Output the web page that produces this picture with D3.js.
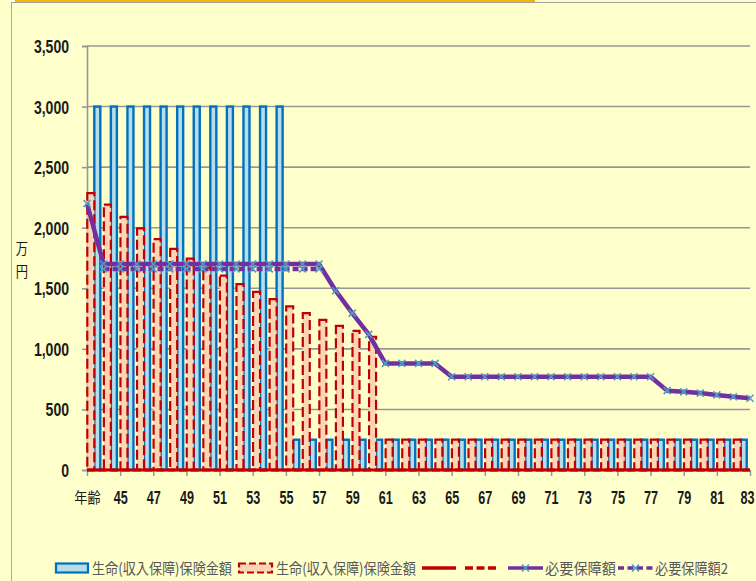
<!DOCTYPE html>
<html><head><meta charset="utf-8">
<script src="https://cdn.jsdelivr.net/npm/d3@7/dist/d3.min.js"></script>
<style>
html,body{margin:0;padding:0;background:#FFFFCC;}
svg{display:block;}
</style></head>
<body>
<svg id="chart" width="756" height="581"></svg>
<script>
// ---------- data ----------
const categories = ["年齢","44","45","46","47","48","49","50","51","52","53","54","55","56","57","58","59","60","61","62","63","64","65","66","67","68","69","70","71","72","73","74","75","76","77","78","79","80","81","82","83"];
const yTicks = [0,500,1000,1500,2000,2500,3000,3500];
// bars: one per age interval (40 groups)
const insurance1 = [3000,3000,3000,3000,3000,3000,3000,3000,3000,3000,3000,3000,
  250,250,250,250,250,250,250,250,250,250,250,250,250,250,250,250,250,250,250,250,250,250,250,250,250,250,250,250];
const insurance2 = [2285,2190,2090,1995,1905,1825,1745,1670,1605,1535,1470,1410,1350,1295,1240,1190,1148,1100,
  250,250,250,250,250,250,250,250,250,250,250,250,250,250,250,250,250,250,250,250,250,250];
// lines: one per age (41 points)
const baseLine1 = [0,0,0,0,0,0,0,0,0,0,0,0,0,0,0,0,0,0,0,0,0,0,0,0,0,0,0,0,0,0,0,0,0,0,0,0,0,0,0,0,0];
const baseLine2 = [0,0,0,0,0,0,0,0,0,0,0,0,0,0,0,0,0,0,0,0,0,0,0,0,0,0,0,0,0,0,0,0,0,0,0,0,0,0,0,0,0];
const required1 = [2200,1700,1700,1700,1700,1700,1700,1700,1700,1700,1700,1700,1700,1700,1700,
  1480,1295,1120,880,880,880,880,770,770,770,770,770,770,770,770,770,770,770,770,770,
  655,645,635,620,605,592];
const required2 = [null,1660,1660,1660,1660,1660,1660,1660,1660,1660,1660,1660,1660,1660,1660,
  null,null,null,null,null,null,null,null,null,null,null,null,null,null,null,null,null,null,null,null,
  null,null,null,null,null,null];
const seriesNames = ["生命(収入保障)保険金額","生命(収入保障)保険金額","","","必要保障額","必要保障額2"];

// ---------- styles ----------
const C = {
  bg:"#FFFFCC", grid:"#979797", blueStroke:"#0070C0", blueFill:"#B7DDE8",
  redStroke:"#C00000", redFill:"#FCD5B4", purple:"#7030A0", marker:"#4F9DC2",
  text:"#1a1a1a", legendText:"#595959"
};
const NUM_FONT = "'Liberation Sans', Arial, sans-serif";
const CJK_FONT = "'Noto Sans CJK JP', 'Noto Sans', sans-serif";

const svg = d3.select("#chart");
svg.append("rect").attr("width",756).attr("height",581).attr("fill",C.bg);
// frame decorations
svg.append("line").attr("x1",11).attr("x2",756).attr("y1",2.5).attr("y2",2.5).attr("stroke","#a0a0a0").attr("stroke-width",1);
svg.append("rect").attr("x",15).attr("y",0).attr("width",520).attr("height",2).attr("fill","#F5B800");
svg.append("line").attr("x1",11.5).attr("x2",11.5).attr("y1",2).attr("y2",581).attr("stroke","#a8a8a8").attr("stroke-width",1);

const L = 87, R = 750, T = 46, B = 470;
const x = d3.scaleLinear().domain([0, categories.length-1]).range([L, R]);
const y = d3.scaleLinear().domain([0, 3500]).range([B, T]);

// gridlines
svg.append("g").selectAll("line").data(yTicks.filter(d=>d>0)).join("line")
  .attr("x1",L).attr("x2",R).attr("y1",d=>y(d)).attr("y2",d=>y(d))
  .attr("stroke",C.grid).attr("stroke-width",1.6);

// y axis
const yAxis = d3.axisLeft(y).tickValues(yTicks).tickSize(5).tickFormat(d3.format(","));
const gy = svg.append("g").attr("transform",`translate(${L},0)`).call(yAxis);
gy.select(".domain").attr("stroke",C.grid).attr("stroke-width",1.6);
gy.selectAll(".tick line").attr("stroke",C.grid).attr("stroke-width",1.6);
gy.selectAll(".tick text").remove();
gy.selectAll(".tick").append("text")
  .attr("transform","translate(-18,0) scale(0.78,1)")
  .attr("text-anchor","end").attr("dy","0.36em")
  .attr("font-family",NUM_FONT).attr("font-weight","bold").attr("font-size",18)
  .attr("fill",C.text).text(d=>d3.format(",")(d));

// x axis ticks (every 2 categories)
const lastIdx = categories.length-1;
const xTickIdx = d3.range(0, categories.length, 2);
const xAxis = d3.axisBottom(x).tickValues(xTickIdx).tickSize(6).tickFormat(i=>categories[i]);
const gx = svg.append("g").attr("transform",`translate(0,${B})`).call(xAxis);
gx.select(".domain").remove();
gx.selectAll(".tick line").attr("stroke",C.grid).attr("stroke-width",1.5);
gx.selectAll(".tick text").remove();
gx.selectAll(".tick").append("text")
  .attr("transform",i=> i===0 ? "translate(0,33) scale(0.88,1)" : (i===lastIdx ? "translate(-3,34) scale(0.7,1)" : "translate(0,34) scale(0.7,1)"))
  .attr("text-anchor","middle")
  .attr("font-family",i=> i===0 ? CJK_FONT : NUM_FONT)
  .attr("font-weight",i=> i===0 ? "normal" : "bold")
  .attr("font-size",i=> i===0 ? 15 : 18)
  .attr("fill",C.text).text(i=>categories[i]);

// y axis title
const yt = svg.append("g").attr("font-family",CJK_FONT).attr("font-size",15).attr("fill",C.text);
yt.append("text").attr("transform","translate(22,254) scale(0.82,1)").attr("text-anchor","middle").text("万");
yt.append("text").attr("transform","translate(22,277) scale(0.82,1)").attr("text-anchor","middle").text("円");

// bars
const barsG = svg.append("g");
barsG.selectAll("rect.b1").data(insurance1).join("rect").attr("class","b1")
  .attr("x",(d,i)=>x(i)+7.3).attr("width",6)
  .attr("y",d=>y(d)).attr("height",d=>B-y(d))
  .attr("fill",C.blueFill).attr("stroke",C.blueStroke).attr("stroke-width",2.4);
barsG.selectAll("rect.b2").data(insurance2).join("rect").attr("class","b2")
  .attr("x",(d,i)=>x(i)+0.3).attr("width",7)
  .attr("y",d=>y(d)).attr("height",d=>B-y(d))
  .attr("fill",C.redFill).attr("stroke",C.redStroke).attr("stroke-width",2.2)
  .attr("stroke-dasharray","10,4");

// lines
const line = d3.line().defined(d=>d!=null).x((d,i)=>x(i)).y(d=>y(d));
svg.append("path").datum(baseLine1).attr("d",line).attr("fill","none").attr("stroke",C.redStroke).attr("stroke-width",3);
svg.append("path").datum(baseLine2).attr("d",line).attr("fill","none").attr("stroke",C.redStroke).attr("stroke-width",3).attr("stroke-dasharray","8,3.5");
svg.append("path").datum(required1).attr("d",line).attr("fill","none").attr("stroke",C.purple).attr("stroke-width",4.5).attr("stroke-linejoin","round");
svg.append("path").datum(required2).attr("d",line).attr("fill","none").attr("stroke",C.purple).attr("stroke-width",4.5).attr("stroke-dasharray","6,3");

function xMarker(g, cx, cy){
  const s = 3.5;
  g.append("path").attr("d",`M${cx-s},${cy-s}L${cx+s},${cy+s}M${cx-s},${cy+s}L${cx+s},${cy-s}`)
    .attr("stroke",C.marker).attr("stroke-width",1.6).attr("fill","none");
}
const mg = svg.append("g");
required1.forEach((d,i)=>{ if(d!=null) xMarker(mg, x(i), y(d)); });
required2.forEach((d,i)=>{ if(d!=null) xMarker(mg, x(i), y(d)); });

// legend
const lg = svg.append("g");
const ly = 568;
lg.append("rect").attr("x",56).attr("y",563.5).attr("width",32).attr("height",9).attr("fill",C.blueFill).attr("stroke",C.blueStroke).attr("stroke-width",2.2);
lg.append("rect").attr("x",239).attr("y",563.5).attr("width",33).attr("height",9).attr("fill",C.redFill).attr("stroke",C.redStroke).attr("stroke-width",2.2).attr("stroke-dasharray","7,3");
lg.append("line").attr("x1",422).attr("x2",456).attr("y1",ly).attr("y2",ly).attr("stroke",C.redStroke).attr("stroke-width",3.5);
lg.append("line").attr("x1",465).attr("x2",499).attr("y1",ly).attr("y2",ly).attr("stroke",C.redStroke).attr("stroke-width",3.5).attr("stroke-dasharray","8,3.5");
lg.append("line").attr("x1",508).attr("x2",543).attr("y1",ly).attr("y2",ly).attr("stroke",C.purple).attr("stroke-width",3.5);
xMarker(lg, 525.5, ly);
lg.append("line").attr("x1",618).attr("x2",653).attr("y1",ly).attr("y2",ly).attr("stroke",C.purple).attr("stroke-width",3.5).attr("stroke-dasharray","6,3.5");
xMarker(lg, 635.5, ly);
const legTexts = [
  {t:seriesNames[0], x:92, w:140},
  {t:seriesNames[1], x:276, w:140},
  {t:seriesNames[4], x:545, w:71},
  {t:seriesNames[5], x:655, w:73}
];
lg.selectAll("text").data(legTexts).join("text")
  .attr("x",d=>d.x).attr("y",ly+5.5)
  .attr("font-family",CJK_FONT).attr("font-size",15).attr("fill",C.legendText)
  .attr("textLength",d=>d.w).attr("lengthAdjust","spacingAndGlyphs")
  .text(d=>d.t);
</script>
</body></html>
